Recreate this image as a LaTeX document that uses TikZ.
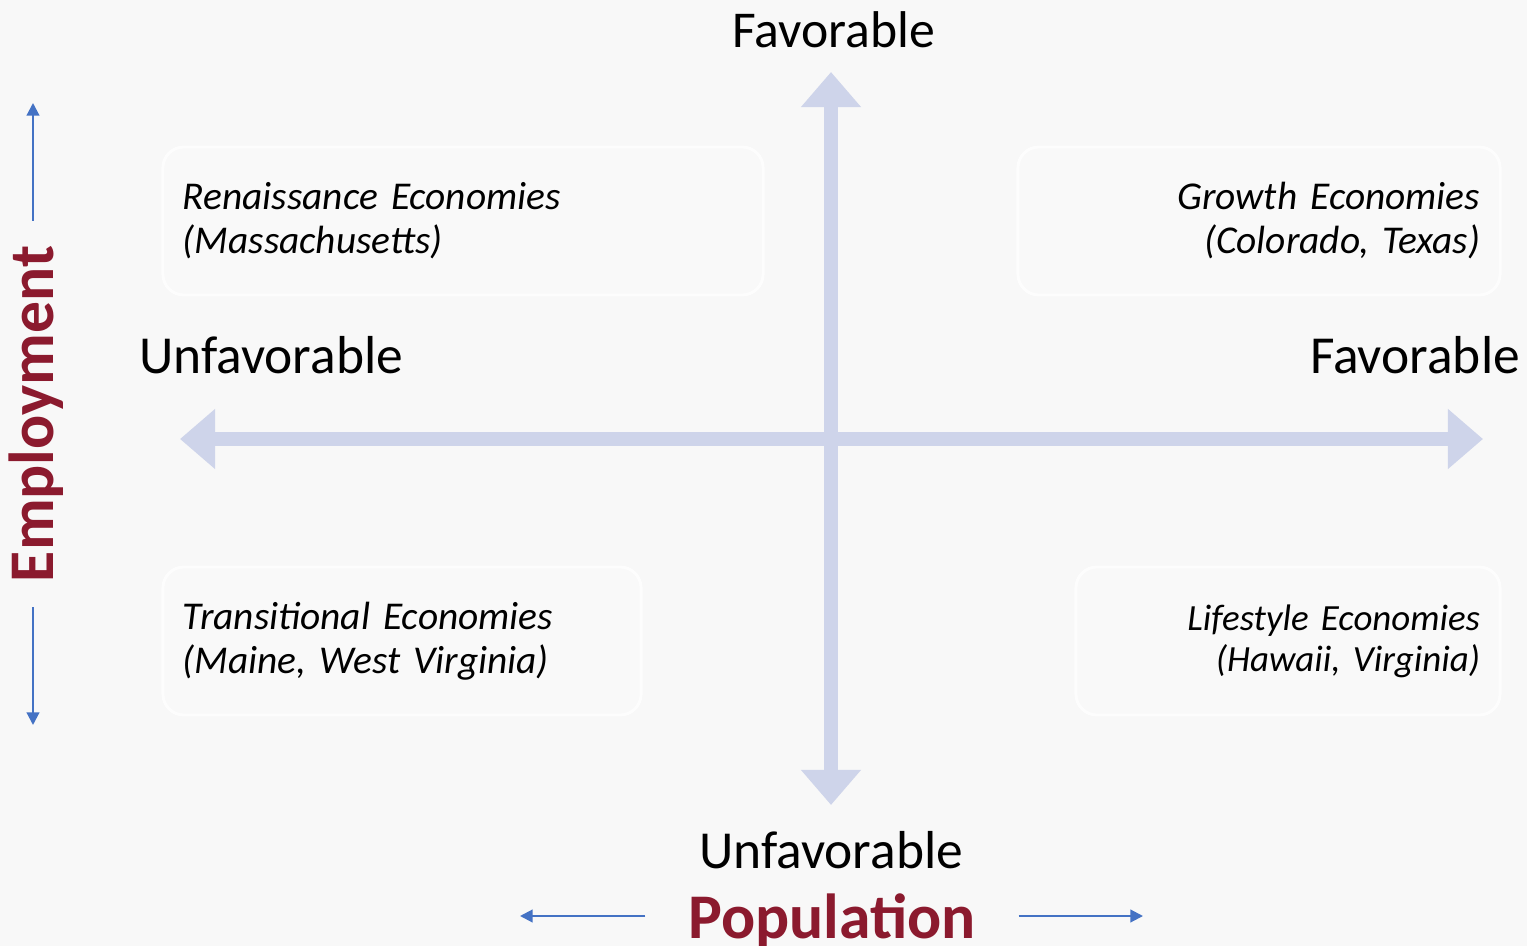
\documentclass[tikz,border=0pt]{standalone}
\usepackage{fontspec}
\setmainfont{Carlito}
\usetikzlibrary{arrows.meta,positioning}
\definecolor{paper}{HTML}{F8F8F8}
\definecolor{axislav}{HTML}{CED4EA}
\definecolor{axisblue}{HTML}{4472C4}
\definecolor{titlered}{HTML}{8B1A2E}

\begin{document}
\begin{tikzpicture}[x=0.01cm,y=-0.01cm,
quad box/.style={draw=white,draw opacity=0.8,line width=0.8pt,rounded corners=6pt,fill=white,fill opacity=0.15,text opacity=1,
  minimum height=1.48cm,inner xsep=0.2cm,inner ysep=0pt,font=\itshape\fontsize{11.2pt}{12.5pt}\selectfont},
axis label/.style={font=\fontsize{15.2pt}{17pt}\selectfont},
title label/.style={text=titlered,font=\bfseries\fontsize{18.1pt}{20pt}\selectfont},
big axis/.style={draw=axislav,line width=4pt,{Triangle[width=16.5pt,length=10pt]}-{Triangle[width=16.5pt,length=10pt]}},
small arrow/.style={draw=axisblue,line width=0.6pt,-{Triangle[width=3.6pt,length=3.6pt]}}]
% background
\fill[paper] (0,0) rectangle (1527,946);
\useasboundingbox (0,0) rectangle (1527,946);

% quadrants
\node[quad box,text width=5.6cm,align=left] (ren) at (463,221) {Renaissance Economies\\(Massachusetts)};
\node[quad box,text width=4.42cm,align=right] (gro) at (1259,221) {Growth Economies\\(Colorado, Texas)};
\node[quad box,text width=4.38cm,align=left] (tra) at (402,641) {Transitional Economies\\(Maine, West Virginia)};
\node[quad box,text width=3.84cm,align=right,font=\itshape\fontsize{10.5pt}{11.7pt}\selectfont] (lif) at (1288,641) {Lifestyle Economies\\(Hawaii, Virginia)};

% the cross
\coordinate (ytop) at (831,72);
\coordinate (ybot) at (831,805);
\coordinate (xleft) at (180,439);
\coordinate (xright) at (1483,439);
\draw[big axis] (xleft) -- (xright);
\draw[big axis] (ybot) -- (ytop);

\node[axis label,font=\fontsize{14.7pt}{16pt}\selectfont] (fav-top) at (834,30) {Favorable};
\node[axis label] (unfav-left) at (271,355) {Unfavorable};
\node[axis label] (fav-right) at (1415,355) {Favorable};
\node[axis label] (unfav-bot) at (831,850) {Unfavorable};

% employment
\node[title label,rotate=90,inner xsep=7pt] (emp) at (36,414) {Employment};
\coordinate (emp-up) at (33,103);
\coordinate (emp-down) at (33,725);
\draw[small arrow] (emp.east -| emp-up) -- (emp-up);
\draw[small arrow] (emp.west -| emp-down) -- (emp-down);

% population
\node[title label,anchor=base,inner xsep=12pt] (pop) at (832,938) {Population};
\coordinate (pop-left) at (520,916);
\coordinate (pop-right) at (1143,916);
\draw[small arrow] (pop.west |- pop-left) -- (pop-left);
\draw[small arrow] (pop.east |- pop-right) -- (pop-right);
\end{tikzpicture}
\end{document}
